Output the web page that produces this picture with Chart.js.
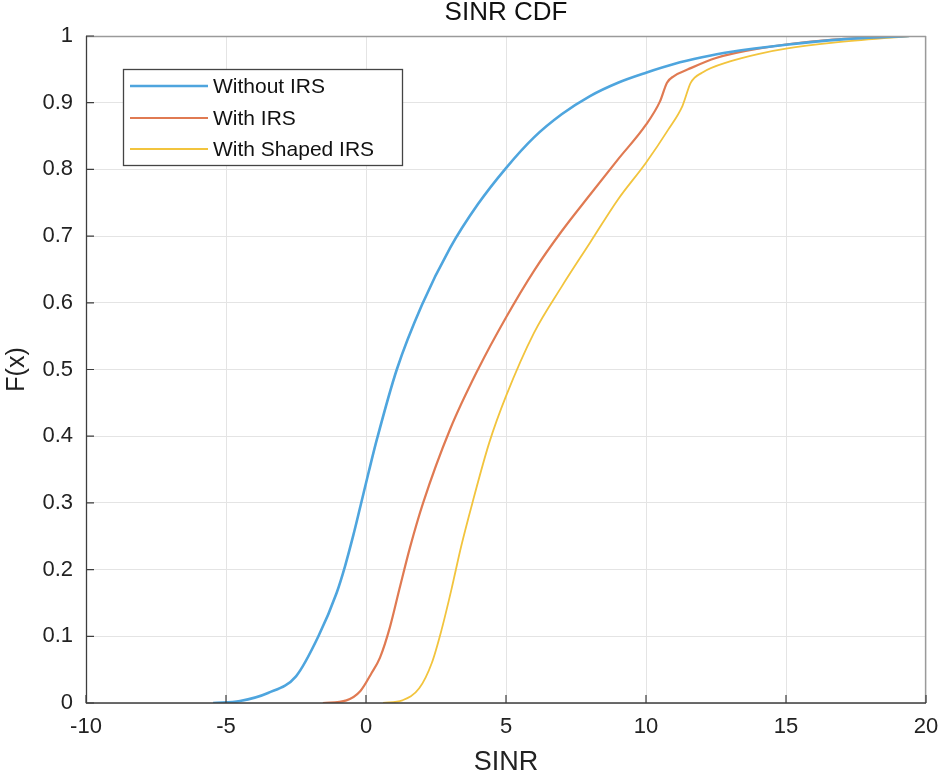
<!DOCTYPE html>
<html>
<head>
<meta charset="utf-8">
<script src="https://cdn.jsdelivr.net/npm/chart.js@4.4.1/dist/chart.umd.min.js"></script>
<style>
  html, body { margin: 0; padding: 0; background: #ffffff; }
  #wrap { width: 944px; height: 779px; }
</style>
</head>
<body>
<div id="wrap"><canvas id="c" width="944" height="779"></canvas></div>
<script>
// ---- data ----
const chartTitle = 'SINR CDF';
const seriesNames = ['Without IRS', 'With IRS', 'With Shaped IRS'];

const sinrWithout = [-5.46, -4.5, -3.5, -2.5, -1.7, -1.05, -0.75, -0.45, -0.2, 0.1, 0.4, 1.1, 2.0, 3.0, 4.0, 5.0, 6.0, 7.0, 8.0, 9.0, 10.0, 11.0, 12.0, 13.0, 15.0, 17.0, 19.4];
const cdfWithout  = [0, 0.003, 0.015, 0.04, 0.10, 0.165, 0.205, 0.252, 0.295, 0.347, 0.397, 0.50, 0.597, 0.682, 0.748, 0.802, 0.848, 0.883, 0.91, 0.93, 0.945, 0.958, 0.968, 0.976, 0.987, 0.995, 1.0];

const sinrWith = [-1.54, -0.7, -0.2, 0.2, 0.5, 0.85, 1.2, 1.57, 2.04, 3.0, 4.0, 5.0, 6.0, 7.0, 8.0, 9.0, 10.0, 10.5, 10.75, 11.0, 11.5, 12.5, 14.0, 16.5, 19.4];
const cdfWith  = [0, 0.004, 0.018, 0.045, 0.068, 0.113, 0.172, 0.233, 0.30, 0.41, 0.50, 0.578, 0.648, 0.708, 0.762, 0.815, 0.867, 0.902, 0.93, 0.94, 0.95, 0.967, 0.981, 0.994, 1.0];

const sinrShaped = [0.61, 1.3, 1.9, 2.35, 2.7, 3.05, 3.4, 3.8, 4.4, 5.0, 6.0, 7.0, 8.0, 9.0, 10.0, 10.8, 11.3, 11.6, 12.0, 13.0, 14.0, 15.0, 16.7, 19.4];
const cdfShaped  = [0, 0.004, 0.022, 0.06, 0.11, 0.17, 0.235, 0.30, 0.39, 0.46, 0.555, 0.625, 0.69, 0.755, 0.81, 0.86, 0.895, 0.93, 0.945, 0.962, 0.973, 0.981, 0.99, 1.0];

const xTicks = [-10, -5, 0, 5, 10, 15, 20];
const yTicks = [0, 0.1, 0.2, 0.3, 0.4, 0.5, 0.6, 0.7, 0.8, 0.9, 1];

// ---- build ----
const toPts = (xs, ys) => xs.map((x, i) => ({ x: x, y: ys[i] }));
const colors = ['#4ea5de', '#e07a52', '#f2c43d'];
const widths = [2.6, 2.2, 1.8];
const FONT = '"Liberation Sans", Arial, Helvetica, sans-serif';

const datasets = [
  toPts(sinrWithout, cdfWithout),
  toPts(sinrWith, cdfWith),
  toPts(sinrShaped, cdfShaped)
].map((d, i) => ({
  label: seriesNames[i],
  data: d,
  borderColor: colors[i],
  backgroundColor: colors[i],
  borderWidth: widths[i],
  pointRadius: 0,
  fill: false,
  cubicInterpolationMode: 'monotone',
  showLine: true
}));

const boxPlugin = {
  id: 'matlabBox',
  afterDatasetsDraw(chart) {
    const { ctx, chartArea: a, scales } = chart;
    ctx.save();
    // frame
    ctx.lineWidth = 1.3;
    ctx.strokeStyle = '#9a9a9a';
    ctx.beginPath();
    ctx.moveTo(a.left, a.top + 0.5); ctx.lineTo(a.right, a.top + 0.5);
    ctx.moveTo(a.right - 0.5, a.top); ctx.lineTo(a.right - 0.5, a.bottom);
    ctx.stroke();
    ctx.strokeStyle = '#3d3d3d';
    ctx.beginPath();
    ctx.moveTo(a.left + 0.5, a.top); ctx.lineTo(a.left + 0.5, a.bottom);
    ctx.lineTo(a.right, a.bottom);
    ctx.stroke();
    // inward ticks
    ctx.lineWidth = 1.2;
    ctx.strokeStyle = '#3d3d3d';
    ctx.beginPath();
    xTicks.forEach(v => {
      const px = scales.x.getPixelForValue(v);
      ctx.moveTo(px, a.bottom); ctx.lineTo(px, a.bottom - 8);
    });
    yTicks.forEach(v => {
      const py = scales.y.getPixelForValue(v);
      ctx.moveTo(a.left, py); ctx.lineTo(a.left + 8, py);
    });
    ctx.stroke();
    // title, centred over the plot area
    ctx.fillStyle = '#111111';
    ctx.font = '26px ' + FONT;
    ctx.textAlign = 'center';
    ctx.textBaseline = 'middle';
    ctx.fillText(chartTitle, (a.left + a.right) / 2, 13);
    // legend
    const lx = 123, ly = 69, lw = 279, lh = 96;
    ctx.fillStyle = '#ffffff';
    ctx.fillRect(lx, ly, lw, lh);
    ctx.lineWidth = 1.3;
    ctx.strokeStyle = '#444444';
    ctx.strokeRect(lx + 0.5, ly + 0.5, lw, lh);
    const rows = [86, 118, 149];
    chart.data.datasets.forEach((ds, i) => {
      ctx.strokeStyle = ds.borderColor;
      ctx.lineWidth = ds.borderWidth;
      ctx.beginPath();
      ctx.moveTo(130, rows[i]); ctx.lineTo(208, rows[i]);
      ctx.stroke();
      ctx.fillStyle = '#111111';
      ctx.font = '21px ' + FONT;
      ctx.textBaseline = 'middle';
      ctx.textAlign = 'left';
      ctx.fillText(ds.label, 213, rows[i] + 1);
    });
    ctx.restore();
  }
};

new Chart(document.getElementById('c'), {
  type: 'line',
  data: { datasets: datasets },
  options: {
    responsive: false,
    animation: false,
    devicePixelRatio: 1,
    layout: { padding: { top: 36, right: 18, left: 0, bottom: 0 } },
    plugins: {
      legend: { display: false },
      tooltip: { enabled: false },
      title: { display: false }
    },
    scales: {
      x: {
        type: 'linear',
        min: -10, max: 20,
        afterBuildTicks: s => { s.ticks = xTicks.map(v => ({ value: v })); },
        afterFit: s => { s.height = 76; s.paddingRight = 0; s.paddingLeft = 0; },
        ticks: { color: '#222222', font: { family: FONT, size: 22 }, padding: 11, maxRotation: 0 },
        grid: { color: '#e4e4e4', lineWidth: 1, drawTicks: false },
        border: { display: false },
        title: { display: true, text: 'SINR', color: '#222222', font: { family: FONT, size: 27 }, padding: { top: 0, bottom: 0 } }
      },
      y: {
        type: 'linear',
        min: 0, max: 1,
        afterBuildTicks: s => { s.ticks = yTicks.map(v => ({ value: v })); },
        afterFit: s => { s.width = 86; },
        ticks: { color: '#222222', font: { family: FONT, size: 22 }, padding: 13, callback: v => String(Math.round(v * 10) / 10) },
        grid: { color: '#e4e4e4', lineWidth: 1, drawTicks: false },
        border: { display: false },
        title: { display: true, text: 'F(x)', color: '#222222', font: { family: FONT, size: 25 }, padding: { top: 2, bottom: 0 } }
      }
    }
  },
  plugins: [boxPlugin]
});
</script>
</body>
</html>
